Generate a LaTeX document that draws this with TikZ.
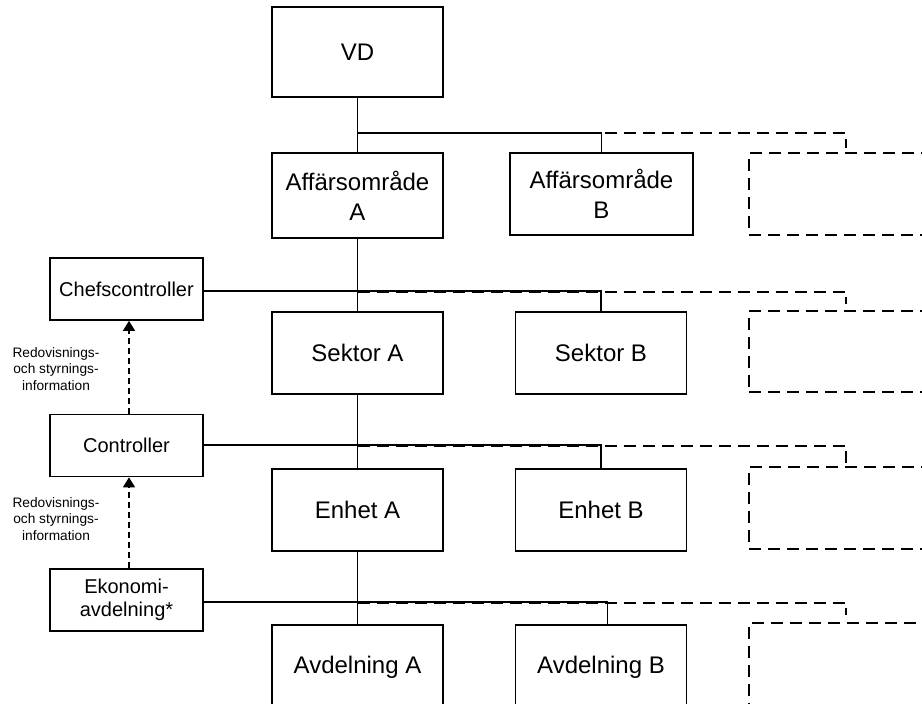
\documentclass[tikz,border=0pt]{standalone}
\usepackage{fontspec}
\setmainfont{Liberation Sans}
\usetikzlibrary{arrows.meta}
\begin{document}
\begin{tikzpicture}[x=1pt,y=-1pt,
  box/.style={draw, line width=1.7pt, rectangle, inner sep=0pt, align=center,
              font=\fontsize{24}{30}\selectfont},
  orgbox/.style={box, minimum width=171pt, minimum height=82pt},
  sidebox/.style={box, minimum width=153pt, minimum height=62pt,
              font=\fontsize{20}{23}\selectfont},
  ghost/.style={box, dash pattern=on 12pt off 7pt, minimum width=260pt, minimum height=82pt},
  link/.style={line width=1.8pt},
  ghostlink/.style={line width=1.8pt, dash pattern=on 12pt off 7pt},
  flow/.style={line width=1.4pt, dash pattern=on 6pt off 4pt,
               -{Triangle[length=10pt,width=12pt]}},
  note/.style={align=center, inner sep=0pt, font=\fontsize{13.7}{16.5}\selectfont}
]
\useasboundingbox (0,0) rectangle (922,704);
\clip (0,0) rectangle (922,704);

% organisation tree
\node[orgbox, minimum height=90pt] (vd) at (357.5,52) {VD};

\node[orgbox, minimum height=85pt] (aoa) at (357.5,195.5) {Affärsområde\\A};
\node[box, minimum width=183pt, minimum height=82pt] (aob) at (601.5,194) {Affärsområde\\B};
\node[ghost] (aoc) at (879,194) {};

\node[orgbox] (seka) at (357.5,353) {Sektor A};
\node[orgbox] (sekb) at (601,353) {Sektor B};
\node[ghost, minimum height=81pt] (sekc) at (879,351.5) {};

\node[orgbox] (enha) at (357.5,510) {Enhet A};
\node[orgbox] (enhb) at (601,510) {Enhet B};
\node[ghost] (enhc) at (879,508) {};

\node[orgbox, minimum height=84pt] (avda) at (357.5,667) {Avdelning A};
\node[orgbox, minimum height=84pt] (avdb) at (601,667) {Avdelning B};
\node[ghost, minimum height=84pt] (avdc) at (879,665) {};

% controller column
\node[sidebox] (chef) at (126.5,289) {Chefscontroller};
\node[sidebox] (ctrl) at (126.5,445.5) {Controller};
\node[sidebox] (eko) at (126.5,600) {Ekonomi-\\avdelning*};

\node[note] (note1) at (56,369) {Redovisnings-\\och styrnings-\\information};
\node[note] (note2) at (56,519) {Redovisnings-\\och styrnings-\\information};

% free ends of the dashed branches
\coordinate (g1) at (846,148);
\coordinate (g2) at (846,304);
\coordinate (g3) at (846,467);
\coordinate (g4) at (846,615);

% level 1: VD -> Affärsområden
\coordinate (j1) at (357.5,133);
\draw[link] (vd.south) -- (aoa.north);
\draw[ghostlink] (j1) -- (g1 |- j1) -- (g1);
\draw[link] (j1) -| (aob.north);

% level 2: Affärsområde A -> Sektorer
\coordinate (j2) at (357.5,291);
\draw[link] (aoa.south) -- (seka.north);
\draw[ghostlink] ([yshift=-0.6pt]j2) -- ([yshift=-0.6pt]g2 |- j2) -- (g2);
\draw[link] (chef.east |- j2) -- (j2) -| (sekb.north);

% level 3: Sektor A -> Enheter
\coordinate (j3) at (357.5,445);
\draw[link] (seka.south) -- (enha.north);
\draw[ghostlink] ([yshift=-0.6pt]j3) -- ([yshift=-0.6pt]g3 |- j3) -- (g3);
\draw[link] (ctrl.east |- j3) -- (j3) -| (enhb.north);

% level 4: Enhet A -> Avdelningar
\coordinate (j4) at (357.5,602);
\coordinate (b4) at (607.5,625);
\draw[link] (enha.south) -- (avda.north);
\draw[ghostlink] ([yshift=-0.6pt]j4) -- ([yshift=-0.6pt]g4 |- j4) -- (g4);
\draw[link] (eko.east |- j4) -- (j4) -| (b4);

% reporting flow
\draw[flow] ([xshift=2.5pt]ctrl.north) -- ([xshift=2.5pt]chef.south);
\draw[flow] ([xshift=2.5pt]eko.north) -- ([xshift=2.5pt]ctrl.south);
\end{tikzpicture}
\end{document}
